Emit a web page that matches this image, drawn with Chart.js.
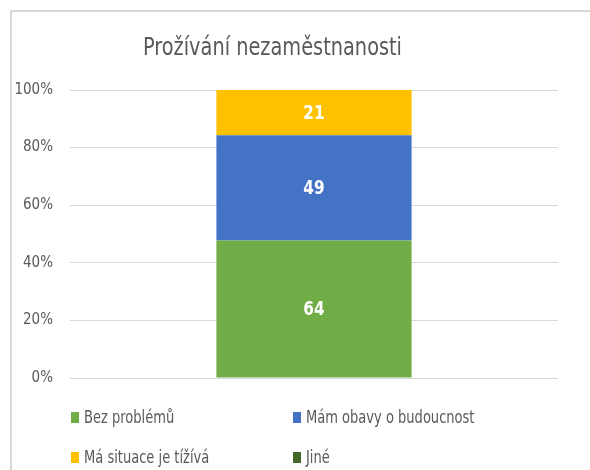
<!DOCTYPE html>
<html lang="cs">
<head>
<meta charset="UTF-8">
<title>Prožívání nezaměstnanosti</title>
<script src="https://cdn.jsdelivr.net/npm/chart.js"></script>
<style>
  html, body { margin: 0; background: #fff; overflow: hidden; }
  .wrap { position: relative; width: 590px; height: 470px; overflow: hidden; }
  .line-top { position: absolute; left: 10px; top: 10px; width: 580px; height: 2px; background: #d9d9d9; }
  .line-left { position: absolute; left: 10px; top: 10px; width: 2px; height: 460px; background: #d9d9d9; }
  canvas { position: absolute; left: 0; top: 0; }
  .title { position: absolute; left: 0; top: 37px; width: 545px; text-align: center;
           font: 21.5px "DejaVu Sans Condensed", sans-serif;
           line-height: 1; color: #595959;
           transform: scaleY(1.15); transform-origin: 50% 18px; }
  .legend-item { position: absolute; font: 14.5px "DejaVu Sans Condensed", sans-serif;
                 line-height: 1; color: #595959; white-space: nowrap;
                 transform: scaleY(1.25); transform-origin: 0 12px; }
  .legend-box { position: absolute; width: 8px; height: 11px; }
</style>
</head>
<body>
<div class="wrap" id="wrap">
  <div class="line-top"></div>
  <div class="line-left"></div>
  <canvas id="chart" width="590" height="470"></canvas>
  <div class="title">Prožívání nezaměstnanosti</div>
</div>

<script>
  const categories = [''];
  const seriesNames = ['Bez problémů', 'Mám obavy o budoucnost', 'Má situace je tížívá', 'Jiné'];
  const bezProblemu = [64];
  const mamObavy = [49];
  const tiziva = [21];
  const jine = [0];
  const yTicks = [0, 20, 40, 60, 80, 100];

  const seriesValues = [bezProblemu, mamObavy, tiziva, jine];
  const colors = ['#70ad47', '#4472c4', '#ffc000', '#43682b'];
  const fontFamily = '"DejaVu Sans Condensed", sans-serif';

  // 100 % stacked: share of each series in its category
  const totals = categories.map((c, i) => seriesValues.reduce((s, arr) => s + arr[i], 0));

  const datasets = seriesNames.map((name, k) => ({
    label: name,
    raw: seriesValues[k],
    data: seriesValues[k].map((v, i) => v / totals[i] * 100),
    backgroundColor: colors[k],
    borderWidth: 0,
    barPercentage: 0.4,
    categoryPercentage: 1
  }));

  // counts written in the middle of each segment (slightly tall, like the original)
  const valueLabels = {
    id: 'valueLabels',
    afterDatasetsDraw(chart) {
      const ctx = chart.ctx;
      chart.data.datasets.forEach((ds, k) => {
        chart.getDatasetMeta(k).data.forEach((bar, i) => {
          if (!ds.raw[i]) return;
          ctx.save();
          ctx.translate(bar.x, (bar.y + bar.base) / 2 + 1);
          ctx.scale(1, 1.15);
          ctx.font = 'bold 17px ' + fontFamily;
          ctx.fillStyle = '#ffffff';
          ctx.textAlign = 'center';
          ctx.textBaseline = 'middle';
          ctx.fillText(String(ds.raw[i]), 0, 0);
          ctx.restore();
        });
      });
    }
  };

  const chart = new Chart(document.getElementById('chart'), {
    type: 'bar',
    data: { labels: categories, datasets: datasets },
    options: {
      responsive: false,
      animation: false,
      devicePixelRatio: 1,
      layout: { padding: { top: 90, right: 32, bottom: 92, left: 0 } },
      plugins: {
        legend: { display: false },
        title: { display: false },
        tooltip: { enabled: false }
      },
      scales: {
        x: { stacked: true, display: false },
        y: {
          stacked: true,
          min: yTicks[0],
          max: yTicks[yTicks.length - 1],
          afterFit(scale) { scale.width = 70; },
          afterBuildTicks(scale) { scale.ticks = yTicks.map(v => ({ value: v })); },
          border: { display: false },
          grid: { color: '#d9d9d9', lineWidth: 1, drawTicks: false },
          ticks: {
            padding: 17,
            color: '#595959',
            font: { family: fontFamily, size: 15 },
            callback: v => v + '%'
          }
        }
      }
    },
    plugins: [valueLabels]
  });

  // legend laid out in two columns, like the original
  const wrap = document.getElementById('wrap');
  const legendPos = [[71, 411], [293, 411], [71, 451], [293, 451]];
  chart.data.datasets.forEach((ds, k) => {
    const [x, y] = legendPos[k];
    const box = document.createElement('div');
    box.className = 'legend-box';
    box.style.left = x + 'px';
    box.style.top = (y + 1) + 'px';
    box.style.background = ds.backgroundColor;
    wrap.appendChild(box);
    const txt = document.createElement('div');
    txt.className = 'legend-item';
    txt.style.left = (x + 13) + 'px';
    txt.style.top = y + 'px';
    txt.textContent = ds.label;
    wrap.appendChild(txt);
  });
</script>
</body>
</html>
